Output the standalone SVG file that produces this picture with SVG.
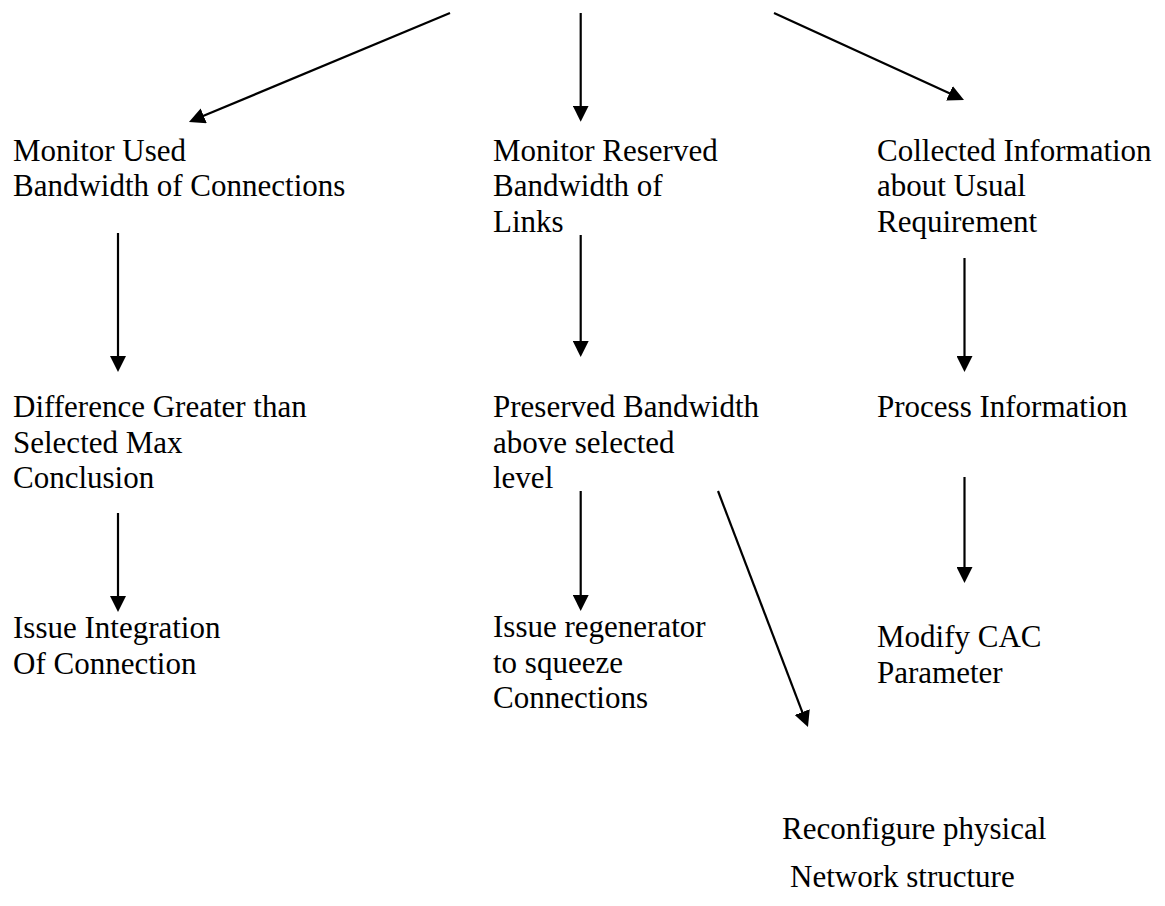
<svg xmlns="http://www.w3.org/2000/svg" width="1165" height="906" viewBox="0 0 1165 906">
<style>
.c line{stroke:#000;stroke-width:2.2;marker-end:url(#ah)}
</style>
<defs>
<marker id="ah" viewBox="0 0 16 16" refX="6" refY="8" markerWidth="16" markerHeight="16" markerUnits="userSpaceOnUse" orient="auto">
<path d="M0,0 L16,8 L0,16 z" fill="#000"/>
</marker>
</defs>
<rect width="1165" height="906" fill="#fff"/>
<g id="connectors" class="c">
<line x1="450" y1="13" x2="198.2" y2="118.1"/>
<line x1="580.7" y1="13" x2="580.7" y2="111.7"/>
<line x1="774" y1="13" x2="954.9" y2="95.8"/>
<line x1="118" y1="233" x2="118" y2="362"/>
<line x1="118" y1="513" x2="118" y2="602"/>
<line x1="580.7" y1="235" x2="580.7" y2="347"/>
<line x1="580.7" y1="491" x2="580.7" y2="601"/>
<line x1="718" y1="491" x2="804.4" y2="717.7"/>
<line x1="964.5" y1="258" x2="964.5" y2="362"/>
<line x1="964.5" y1="477" x2="964.5" y2="573"/>
</g>
<g font-family="Liberation Serif" font-size="31" fill="#000">
<g id="n1"><text x="13" y="160.7">Monitor Used</text><text x="13" y="196.3">Bandwidth of Connections</text></g>
<g id="n2"><text x="493" y="160.7">Monitor Reserved</text><text x="493" y="196.3">Bandwidth of</text><text x="493" y="231.9">Links</text></g>
<g id="n3"><text x="877" y="160.7">Collected Information</text><text x="877" y="196.3">about Usual</text><text x="877" y="231.9">Requirement</text></g>
<g id="n4"><text x="13" y="417">Difference Greater than</text><text x="13" y="452.6">Selected Max</text><text x="13" y="488.2">Conclusion</text></g>
<g id="n5"><text x="493" y="417">Preserved Bandwidth</text><text x="493" y="452.6">above selected</text><text x="493" y="488.2">level</text></g>
<g id="n6"><text x="877" y="417">Process Information</text></g>
<g id="n7"><text x="13" y="638">Issue Integration</text><text x="13" y="673.6">Of Connection</text></g>
<g id="n8"><text x="493" y="637">Issue regenerator</text><text x="493" y="672.6">to squeeze</text><text x="493" y="708.2">Connections</text></g>
<g id="n9"><text x="877" y="647">Modify CAC</text><text x="877" y="682.6">Parameter</text></g>
<g id="n10"><text x="782" y="839">Reconfigure physical</text><text x="790" y="887">Network structure</text></g>
</g>
</svg>
